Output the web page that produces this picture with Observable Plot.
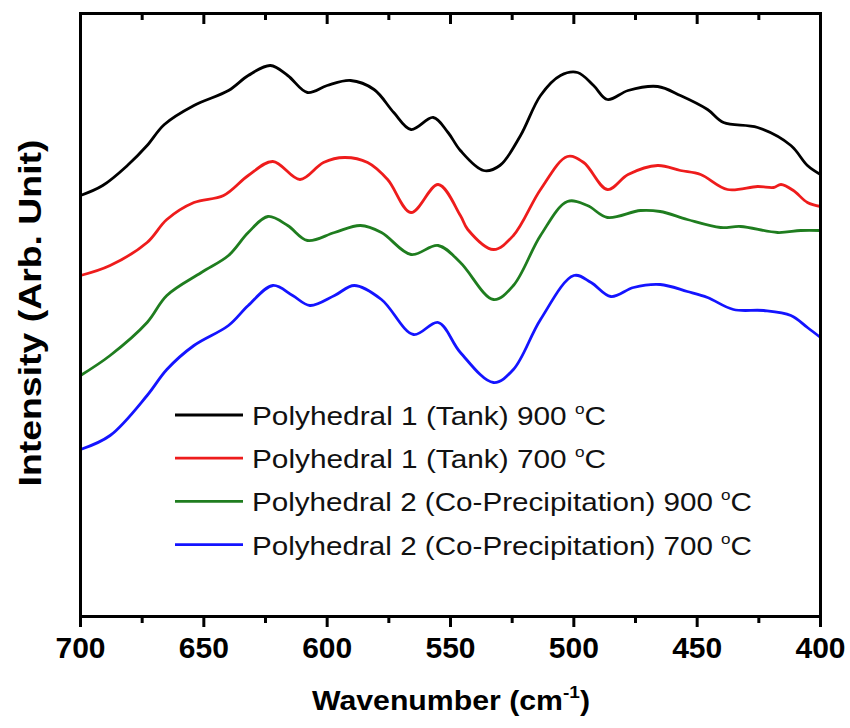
<!DOCTYPE html>
<html>
<head>
<meta charset="utf-8">
<script src="https://cdn.jsdelivr.net/npm/d3@7"></script>
<script src="https://cdn.jsdelivr.net/npm/@observablehq/plot@0.6"></script>
<style>
  html, body { margin: 0; padding: 0; background: #fff; overflow: hidden; }
  #chart { width: 850px; height: 728px; }
  #chart svg { max-width: none !important; overflow: visible; }
</style>
</head>
<body>
<div id="chart"></div>
<script>
// ---- data ----
const seriesNames = [
  "Polyhedral 1 (Tank) 900",
  "Polyhedral 1 (Tank) 700",
  "Polyhedral 2 (Co-Precipitation) 900",
  "Polyhedral 2 (Co-Precipitation) 700"
];
const seriesColors = ["#000000", "#ee1c1c", "#1f7d1f", "#1414ff"];

const wnBlack = [700,691,681,673,666,654,640,632,623,616,608,600,590.5,581,573,566,557,551,546,536.6,530,521.6,513.5,505.4,498.5,492,486.4,478,466,456.8,445.8,439.3,425.5,412,405.3,400];
const intBlack = [421,431,451,471,492,511,526,541,551,541,524,531,536,527,504,487,499,484,466,446,451,481,521,541,544,531,517,526,530,521,507,494,489,471,451,442];

const wnRed = [700,688,673,665,654,642,632,622,611,601.5,593,583.6,575.5,566,555,546,543,532.6,524.5,513.5,502.6,496,486.4,478,466,456.8,448.6,437.7,425.5,419,416,411,405.3,400];
const intRed = [341,351,374,397,414,421,441,455,437,454,459,454,437,404,432,401,387,367,381,427,460,454,427,442,451,446,442,427,430,429,432,426,414,410];

const wnGreen = [700,688,673,665,651,640,632,624,616,608,597,586.5,578,566,555,546,532.6,524.5,513.5,502.6,494.5,486.4,473,465,454,440.5,432.4,417.4,408,400];
const intGreen = [241,261,294,321,344,361,384,400,391,376,384,391,384,362,371,354,317,331,381,415,411,399,406,405,397,389,390,384,386,386];

const wnBlue = [700,688,673,665,654,640,632,622,614,607,597,589,578,565,555,546,532.6,524.5,513.5,500,493,485,475.8,465,454,445.8,435.3,423,412,405.3,400];
const intBlue = [167,181,221,247,271,291,311,331,321,311,321,331,317,282,294,264,234,247,297,341,334,320,329,332,325,319,307,306,301,289,279];

const majorTicks = [700, 650, 600, 550, 500, 450, 400];
const minorTicks = [675, 625, 575, 525, 475, 425];
const tickLabels = ["700", "650", "600", "550", "500", "450", "400"];
const xDomain = [700, 400];
const yDomain = [0, 603];

const xTitleMain = "Wavenumber (cm";
const xTitleSup = "-1";
const xTitleEnd = ")";
const yTitle = "Intensity (Arb. Unit)";
const legendUnit = "C";
const legendDegree = "o";

// ---- build table ----
const wns = [wnBlack, wnRed, wnGreen, wnBlue];
const ints = [intBlack, intRed, intGreen, intBlue];
const rows = [];
seriesNames.forEach((name, s) => {
  wns[s].forEach((w, i) => rows.push({series: name, wn: w, I: ints[s][i]}));
});

// ---- layout ----
const W = 850, H = 728;
const mt = 13, mb = 112, ml = 80, mr = 30;
const frameH = H - mt - mb;
const yTop = yDomain[1];
const majorLen = 11 * (yDomain[1] - yDomain[0]) / frameH;
const minorLen = 7 * (yDomain[1] - yDomain[0]) / frameH;

const plot = Plot.plot({
  width: W,
  height: H,
  marginTop: mt,
  marginBottom: mb,
  marginLeft: ml,
  marginRight: mr,
  style: {fontFamily: "'Liberation Sans', Arial, sans-serif", background: "#fff", color: "#000", overflow: "visible"},
  x: {domain: xDomain},
  y: {domain: yDomain, axis: null},
  color: {domain: seriesNames, range: seriesColors},
  marks: [
    Plot.line(rows, {x: "wn", y: "I", z: "series", stroke: "series", strokeWidth: 2.8, curve: "catmull-rom"}),
    // bottom ticks (outward) and labels
    Plot.axisX(majorTicks, {anchor: "bottom", tickSize: 11, tickPadding: 9, strokeWidth: 3, stroke: "#000",
      tickFormat: d => tickLabels[majorTicks.indexOf(d)], fontSize: 30, fontWeight: "bold", label: null}),
    Plot.axisX(minorTicks, {anchor: "bottom", tickSize: 7, strokeWidth: 3, stroke: "#000", fill: "none", label: null}),
    // top ticks (inward)
    Plot.ruleX(majorTicks, {x: d => d, y1: yTop, y2: yTop - majorLen, stroke: "#000", strokeWidth: 3}),
    Plot.ruleX(minorTicks, {x: d => d, y1: yTop, y2: yTop - minorLen, stroke: "#000", strokeWidth: 3}),
    // frame
    Plot.frame({stroke: "#000", strokeWidth: 3})
  ]
});

document.getElementById("chart").appendChild(plot);
const svg = d3.select(plot);
const font = "'Liberation Sans', Arial, sans-serif";

// y title
svg.append("text")
  .attr("transform", "translate(41,313) rotate(-90)")
  .attr("text-anchor", "middle")
  .attr("font-family", font)
  .attr("font-size", 31)
  .attr("font-weight", "bold")
  .attr("fill", "#000")
  .attr("textLength", 347)
  .attr("lengthAdjust", "spacingAndGlyphs")
  .text(yTitle);

// x title
const xt = svg.append("text")
  .attr("x", 451).attr("y", 710)
  .attr("text-anchor", "middle")
  .attr("font-family", font)
  .attr("font-size", 27)
  .attr("font-weight", "bold")
  .attr("fill", "#000")
  .attr("textLength", 278)
  .attr("lengthAdjust", "spacingAndGlyphs");
xt.append("tspan").text(xTitleMain);
xt.append("tspan").attr("font-size", 17).attr("dy", -12).text(xTitleSup);
xt.append("tspan").attr("dy", 12).text(xTitleEnd);

// legend
const legendLabels = [
  "Polyhedral 1 (Tank) 900 ",
  "Polyhedral 1 (Tank) 700 ",
  "Polyhedral 2 (Co-Precipitation) 900 ",
  "Polyhedral 2 (Co-Precipitation) 700 "
];
const legendWidths = [354, 354, 500, 500];
const lg = svg.append("g").attr("text-anchor", "start");
legendLabels.forEach((lab, i) => {
  const y = 415 + 43.2 * i;
  lg.append("line").attr("x1", 175).attr("x2", 243).attr("y1", y).attr("y2", y)
    .attr("stroke", seriesColors[i]).attr("stroke-width", 2.8);
  const t = lg.append("text")
    .attr("x", 252).attr("y", y + 10)
    .attr("text-anchor", "start")
    .attr("font-family", font)
    .attr("font-size", 26)
    .attr("fill", "#111")
    .attr("textLength", legendWidths[i])
    .attr("lengthAdjust", "spacingAndGlyphs");
  t.append("tspan").text(lab);
  t.append("tspan").attr("font-size", 15).attr("dy", -11).text(legendDegree);
  t.append("tspan").attr("dy", 11).text(legendUnit);
});
</script>
</body>
</html>
